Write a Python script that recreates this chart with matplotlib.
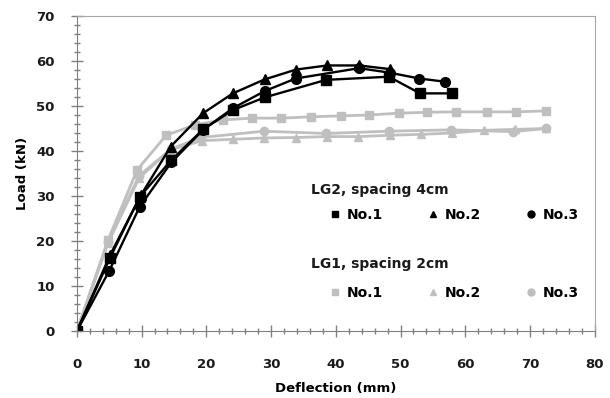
import matplotlib.pyplot as plt
from matplotlib.lines import Line2D

# LG2, spacing 4cm (black)
lg2_no1_x = [0, 5.1, 9.7, 14.6, 19.5, 24.1, 29.0, 38.5, 48.2, 53.0, 58.0]
lg2_no1_y = [0, 16.2, 29.8, 38.0, 44.8, 49.1, 51.9, 55.8, 56.5, 52.8, 52.8]
lg2_no2_x = [0, 5.1, 9.9, 14.5, 19.5, 24.1, 29.0, 33.9, 38.7, 43.6, 48.3]
lg2_no2_y = [0, 16.8, 30.2, 41.0, 48.4, 52.8, 55.9, 58.1, 59.0, 59.0, 58.2]
lg2_no3_x = [0, 5.0, 9.7, 14.6, 19.5, 24.1, 29.0, 33.8, 43.6, 48.3, 52.9, 56.8]
lg2_no3_y = [0, 13.4, 27.6, 37.5, 44.7, 49.5, 53.3, 56.1, 58.4, 57.4, 56.1, 55.4]

# LG1, spacing 2cm (gray)
lg1_no1_x = [0, 4.8, 9.3, 13.8, 18.2, 22.6, 27.0, 31.6, 36.2, 40.8, 45.2, 49.7, 54.1, 58.6, 63.4, 67.9, 72.4]
lg1_no1_y = [0, 20.2, 35.8, 43.5, 45.8, 46.9, 47.3, 47.3, 47.6, 47.8, 48.0, 48.4, 48.6, 48.7, 48.7, 48.7, 48.9]
lg1_no2_x = [0, 4.8, 9.6, 14.4, 19.3, 24.1, 28.9, 33.8, 38.6, 43.5, 48.3, 53.2, 58.0, 62.9, 67.7, 72.5]
lg1_no2_y = [0, 19.5, 34.0, 40.2, 42.3, 42.6, 42.9, 43.0, 43.2, 43.2, 43.5, 43.7, 44.0, 44.6, 44.8, 45.0]
lg1_no3_x = [0, 4.8, 9.6, 14.6, 19.2, 28.9, 38.5, 48.2, 57.8, 67.3, 72.5]
lg1_no3_y = [0, 19.8, 34.5, 40.5, 43.0, 44.4, 43.9, 44.4, 44.7, 44.3, 45.0]

labels = ['No.1', 'No.2', 'No.3']
black = '#000000'
gray = '#BFBFBF'

fig = plt.figure(figsize=(6.1, 3.98), dpi=100)
ax = fig.add_axes([0.126, 0.168, 0.849, 0.792])

ax.plot(lg1_no1_x, lg1_no1_y, color=gray, lw=2, marker='s', ms=6)
ax.plot(lg1_no2_x, lg1_no2_y, color=gray, lw=2, marker='^', ms=6)
ax.plot(lg1_no3_x, lg1_no3_y, color=gray, lw=2, marker='o', ms=6)
ax.plot(lg2_no1_x, lg2_no1_y, color=black, lw=1.7, marker='s', ms=7)
ax.plot(lg2_no2_x, lg2_no2_y, color=black, lw=1.7, marker='^', ms=7)
ax.plot(lg2_no3_x, lg2_no3_y, color=black, lw=1.7, marker='o', ms=7)

ax.set_xlim(0, 80)
ax.set_ylim(0, 70)
ax.set_xticks(range(0, 81, 10))
ax.set_yticks(range(0, 71, 10))
ax.set_xticks(range(0, 81, 2), minor=True)
ax.set_yticks(range(0, 71, 2), minor=True)
ax.tick_params(which='major', direction='inout', length=8, width=1, color='#808080')
ax.tick_params(which='minor', direction='inout', length=4, width=1, color='#808080')
ax.tick_params(axis='x', labelsize=9.5, pad=15)
ax.tick_params(axis='y', labelsize=9.5, pad=12)
for lab in ax.get_xticklabels() + ax.get_yticklabels():
    lab.set_fontweight('bold')
    lab.set_color('#1a1a1a')
for s in ['left', 'bottom']:
    ax.spines[s].set_color('#808080')
for s in ['top', 'right']:
    ax.spines[s].set_color('#a6a6a6')

ax.set_xlabel('Deflection (mm)', fontsize=9.5, fontweight='bold', labelpad=8)
ax.set_ylabel('Load (kN)', fontsize=9.5, fontweight='bold', labelpad=5)


def group_legend(color, title, ytitle, yrow):
    ax.text(0.452, ytitle, title, transform=ax.transAxes, fontsize=10, fontweight='bold',
            ha='left', va='center', color='#1a1a1a')
    handles = [Line2D([], [], ls='none', marker=m, color=color, ms=5) for m in ['s', '^', 'o']]
    leg = ax.legend(handles, labels, ncol=3, frameon=False, loc='center left',
                    bbox_to_anchor=(0.49, yrow), borderpad=0, borderaxespad=0,
                    handlelength=0.6, handletextpad=0.55, columnspacing=3.3,
                    prop={'weight': 'bold', 'size': 10})
    return leg


leg2 = group_legend(black, 'LG2, spacing 4cm', 0.448, 0.368)
ax.add_artist(leg2)
group_legend(gray, 'LG1, spacing 2cm', 0.213, 0.121)

fig.savefig('out.png', dpi=100)
